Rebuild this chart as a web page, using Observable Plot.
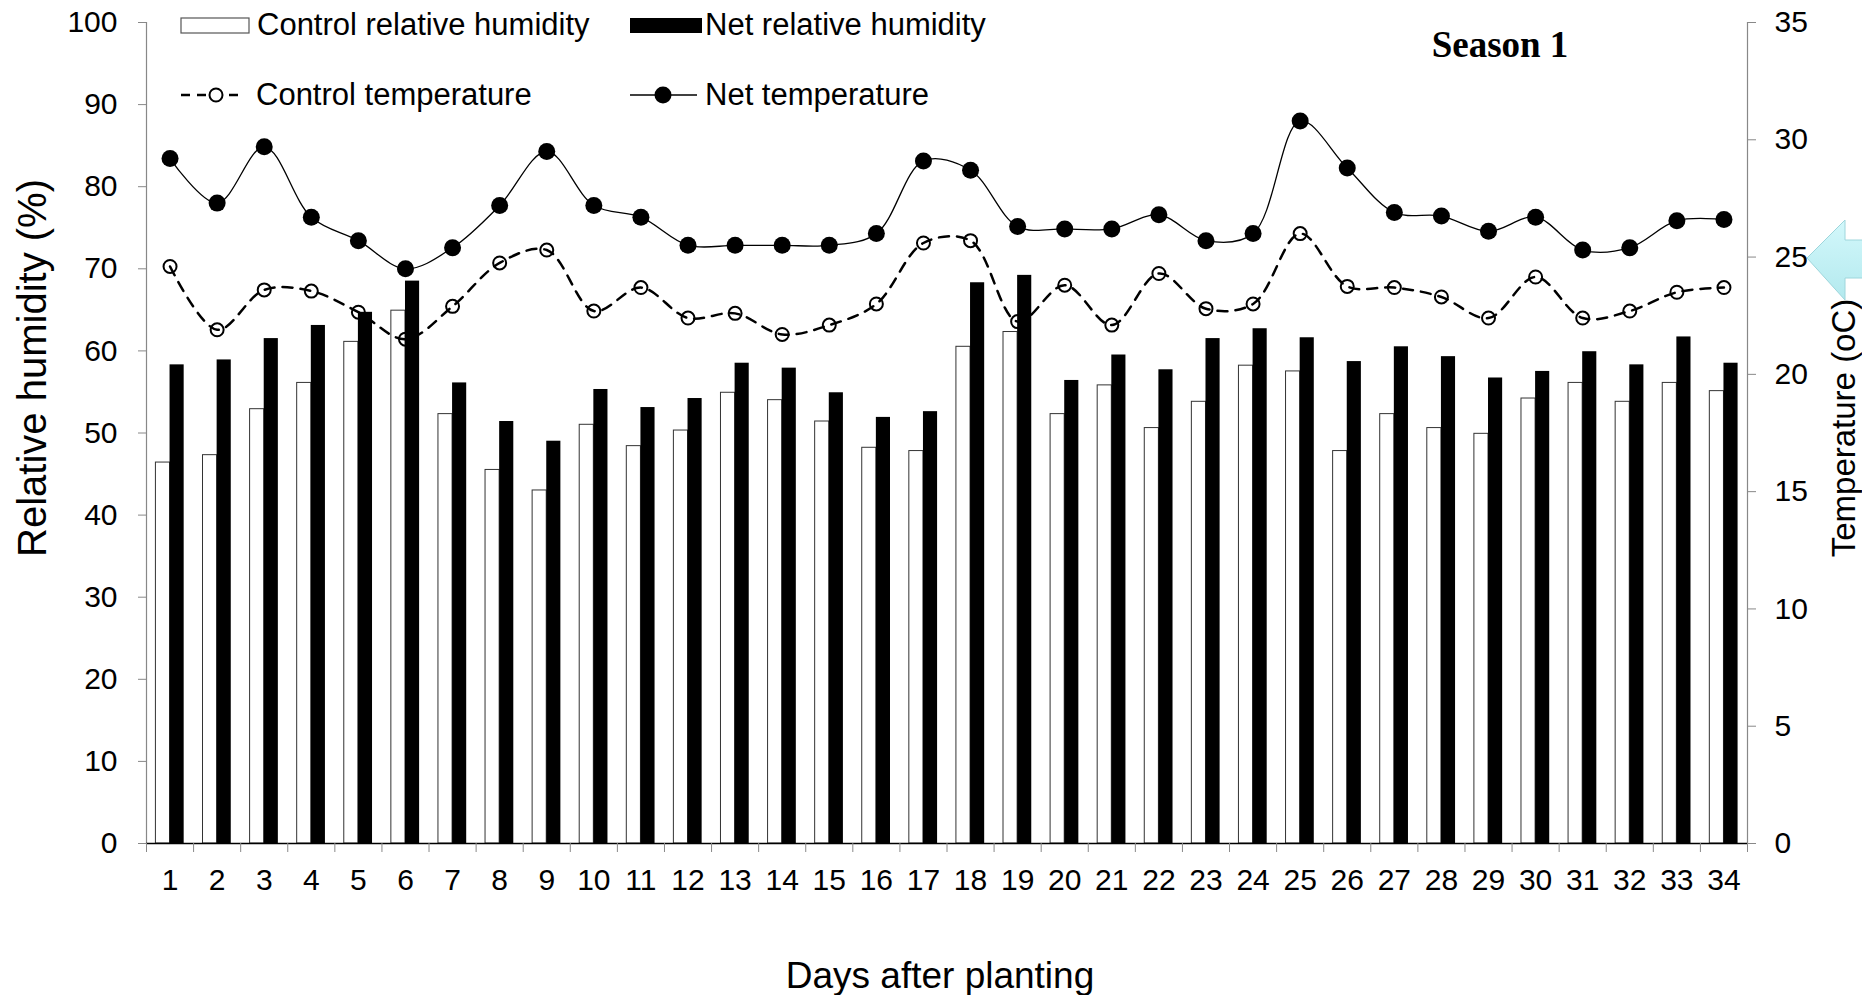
<!DOCTYPE html>
<html><head><meta charset="utf-8">
<script src="https://cdn.jsdelivr.net/npm/d3@7"></script>
<script src="https://cdn.jsdelivr.net/npm/@observablehq/plot@0.6"></script>
<style>
body{margin:0;background:#fff;}
#chart{position:relative;width:1862px;height:995px;overflow:hidden;}
</style>
</head><body><div id="chart"></div>
<script>
const days = [1,2,3,4,5,6,7,8,9,10,11,12,13,14,15,16,17,18,19,20,21,22,23,24,25,26,27,28,29,30,31,32,33,34];
const controlRH = [46.4,47.3,52.9,56.1,61.1,64.9,52.3,45.5,43.0,51.0,48.4,50.3,54.9,54.0,51.4,48.2,47.8,60.5,62.3,52.3,55.8,50.6,53.8,58.2,57.5,47.8,52.3,50.6,49.9,54.2,56.1,53.8,56.1,55.1];
const netRH = [58.3,58.9,61.5,63.1,64.7,68.5,56.1,51.4,49.0,55.3,53.1,54.2,58.5,57.9,54.9,51.9,52.6,68.3,69.2,56.4,59.5,57.7,61.5,62.7,61.6,58.7,60.5,59.3,56.7,57.5,59.9,58.3,61.7,58.5];
const controlTemp = [24.6,21.9,23.6,23.55,22.65,21.5,22.9,24.75,25.3,22.7,23.7,22.4,22.6,21.7,22.1,23.0,25.6,25.7,22.25,23.8,22.1,24.3,22.8,23.0,26.0,23.75,23.7,23.3,22.4,24.15,22.4,22.7,23.5,23.7];
const netTemp = [29.2,27.3,29.7,26.7,25.7,24.5,25.4,27.2,29.5,27.2,26.7,25.5,25.5,25.5,25.5,26.0,29.1,28.7,26.3,26.2,26.2,26.8,25.7,26.0,30.8,28.8,26.9,26.75,26.1,26.7,25.3,25.4,26.55,26.6];
const rhTicks = [0,10,20,30,40,50,60,70,80,90,100];
const tempTicks = [0,5,10,15,20,25,30,35];
const seriesNames = ["Control relative humidity","Net relative humidity","Control temperature","Net temperature"];
const xTitle = "Days after planting";
const yTitle = "Relative humidity (%)";
const y2Title = "Temperature (oC)";
const chartTitle = "Season 1";

const TMAX = 35, RHMAX = 100;
const toRH = t => t * RHMAX / TMAX;
const rows = days.map((d, i) => ({day: d, cRH: controlRH[i], nRH: netRH[i], cT: controlTemp[i], nT: netTemp[i]}));
const barW = 0.3;
const font = "'Liberation Sans', Arial, sans-serif";

const plot = Plot.plot({
  width: 1862, height: 995,
  marginLeft: 146, marginRight: 115, marginTop: 22, marginBottom: 152,
  style: {fontFamily: font, fontSize: "30px", color: "#000", background: "#fff", overflow: "visible"},
  x: {domain: [days[0] - 0.5, days[days.length - 1] + 0.5]},
  y: {domain: [0, RHMAX]},
  marks: [
    Plot.rectY(rows, {x1: d => d.day - barW, x2: d => d.day, y1: 0, y2: "cRH", fill: "white", stroke: "#333", strokeWidth: 1}),
    Plot.rectY(rows, {x1: d => d.day, x2: d => d.day + barW, y1: 0, y2: "nRH", fill: "black"}),
    Plot.ruleX([days[0] - 0.5], {stroke: "#888", strokeWidth: 1.2}),
    Plot.ruleX([days[days.length - 1] + 0.5], {stroke: "#888", strokeWidth: 1.2}),
    Plot.ruleY([0], {stroke: "#000", strokeWidth: 1.5}),
    Plot.axisY(rhTicks, {anchor: "left", tickSize: 8, tickPadding: 21, stroke: "#888", color: "#000", label: null, fontSize: 30}),
    Plot.axisY(tempTicks.map(toRH), {anchor: "right", tickSize: 8, tickPadding: 19, stroke: "#888", color: "#000", label: null, fontSize: 30, tickFormat: v => String(Math.round(v * TMAX / RHMAX))}),
    Plot.axisX(d3.range(days[0] - 0.5, days[days.length - 1] + 1, 1), {anchor: "bottom", tickSize: 9, tickFormat: () => "", stroke: "#888", label: null}),
    Plot.axisX(days, {anchor: "bottom", tickSize: 0, tickPadding: 25, label: null, fontSize: 30, color: "#000"}),
    Plot.line(rows, {x: "day", y: d => toRH(d.cT), curve: "catmull-rom", stroke: "black", strokeWidth: 2.5, strokeDasharray: "10,8"}),
    Plot.dot(rows, {x: "day", y: d => toRH(d.cT), r: 6.5, stroke: "black", strokeWidth: 2, fill: "none"}),
    Plot.line(rows, {x: "day", y: d => toRH(d.nT), curve: "catmull-rom", stroke: "black", strokeWidth: 1.3}),
    Plot.dot(rows, {x: "day", y: d => toRH(d.nT), r: 8.5, fill: "black", stroke: "none"})
  ]
});

document.getElementById("chart").appendChild(plot);
const svg = d3.select(plot);

// Axis titles
svg.append("text").attr("transform", "translate(32,368) rotate(-90)")
  .attr("text-anchor", "middle").attr("dominant-baseline", "central")
  .style("font-family", font).style("font-size", "40px").attr("fill", "#000").text(yTitle);
svg.append("text").attr("transform", "translate(1843,428) rotate(-90)")
  .attr("text-anchor", "middle").attr("dominant-baseline", "central")
  .style("font-family", font).style("font-size", "33px").attr("fill", "#000").text(y2Title);
svg.append("text").attr("x", 940).attr("y", 988).attr("text-anchor", "middle")
  .style("font-family", font).style("font-size", "37px").attr("fill", "#000").text(xTitle);

// Season title
svg.append("text").attr("x", 1500).attr("y", 57).attr("text-anchor", "middle")
  .style("font-family", "'Liberation Serif', 'Times New Roman', serif").style("font-size", "37px").style("font-weight", "bold")
  .attr("fill", "#000").text(chartTitle);

// Legend
const lg = svg.append("g").style("font-family", font).style("font-size", "31px").attr("text-anchor", "start");
lg.append("rect").attr("x", 181).attr("y", 18).attr("width", 68).attr("height", 15).attr("fill", "white").attr("stroke", "#555").attr("stroke-width", 1.2);
lg.append("text").attr("x", 257).attr("y", 35).attr("text-anchor", "start").attr("fill", "#000").text(seriesNames[0]);
lg.append("rect").attr("x", 630).attr("y", 18).attr("width", 72).attr("height", 15).attr("fill", "black");
lg.append("text").attr("x", 705).attr("y", 35).attr("text-anchor", "start").attr("fill", "#000").text(seriesNames[1]);
lg.append("line").attr("x1", 181).attr("x2", 244).attr("y1", 95).attr("y2", 95).attr("stroke", "black").attr("stroke-width", 2.5).attr("stroke-dasharray", "9,7");
lg.append("circle").attr("cx", 216).attr("cy", 95).attr("r", 6.5).attr("fill", "white").attr("stroke", "black").attr("stroke-width", 2);
lg.append("text").attr("x", 256).attr("y", 105).attr("text-anchor", "start").attr("fill", "#000").text(seriesNames[2]);
lg.append("line").attr("x1", 630).attr("x2", 697).attr("y1", 95).attr("y2", 95).attr("stroke", "black").attr("stroke-width", 1.3);
lg.append("circle").attr("cx", 663).attr("cy", 95).attr("r", 8.5).attr("fill", "black");
lg.append("text").attr("x", 705).attr("y", 105).attr("text-anchor", "start").attr("fill", "#000").text(seriesNames[3]);

// Decorative arrow
const defs = svg.append("defs");
const grad = defs.append("linearGradient").attr("id", "arrowGrad").attr("x1", "0").attr("y1", "0").attr("x2", "0").attr("y2", "1");
grad.append("stop").attr("offset", "0").attr("stop-color", "#d3f8fb");
grad.append("stop").attr("offset", "1").attr("stop-color", "#b3e9ee");
svg.append("polygon")
  .attr("points", "1807,258 1845,220 1845,240 1864,240 1864,278 1845,278 1845,300")
  .attr("fill", "url(#arrowGrad)").attr("stroke", "#9ed6dc").attr("stroke-width", 1);
</script>
</body></html>
